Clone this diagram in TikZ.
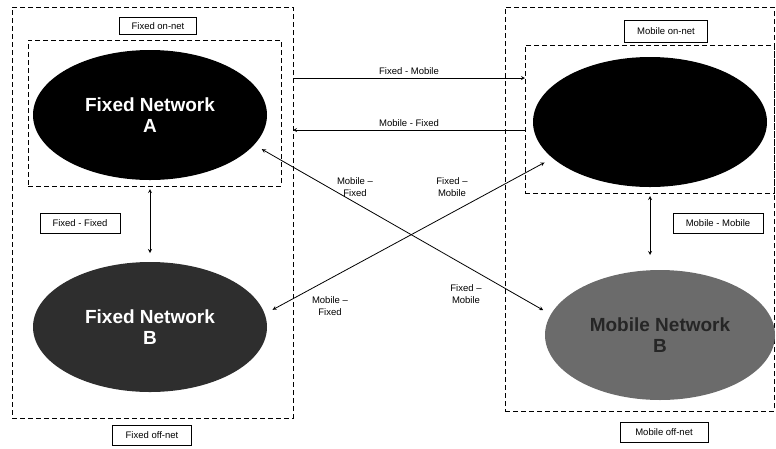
\documentclass[tikz,border=0pt]{standalone}
\usepackage{fontspec}
\setmainfont{Liberation Sans}
\usetikzlibrary{shapes.geometric}

\tikzset{
  zone/.style={draw, dash pattern=on 5pt off 3pt, line width=0.9pt, inner sep=0pt, outer sep=0pt},
  tag/.style={draw, fill=white, line width=0.8pt, font=\fontsize{9.5}{11}\selectfont, minimum height=20pt, inner sep=2pt},
  net/.style={ellipse, minimum width=234pt, minimum height=130pt, outer sep=9pt, align=center, font=\fontsize{19}{21}\selectfont\bfseries},
  flow/.style={<->, >=stealth, line width=0.8pt},
  lbl/.style={font=\fontsize{9.5}{12}\selectfont, align=center}
}

\begin{document}
\begin{tikzpicture}[x=1pt,y=-1pt]
    \useasboundingbox (0,0) rectangle (776,448);

    % zones
    \node (fixedzone) [zone, minimum width=281pt, minimum height=411pt] at (152.5,212.5) {};
    \node (fixedonzone) [zone, minimum width=253pt, minimum height=146pt] at (154.5,113) {};
    \node (mobilezone) [zone, minimum width=269pt, minimum height=404pt] at (639.5,209) {};
    \node (mobileonzone) [zone, minimum width=249pt, minimum height=148pt] at (649.5,119) {};

    % networks
    \node (fixedA) [net, fill=black, text=white] at (150,115) {Fixed Network\\A};
    \node (fixedB) [net, fill=black!82, text=white] at (150,327) {Fixed Network\\B};
    \node (mobileA) [net, fill=black] at (650,122) {};
    \node (mobileB) [net, fill=black!58, text=black!85, minimum width=230pt] at (660,335) {Mobile Network\\B};

    % tags
    \node (fixedon) [tag, minimum width=77pt, minimum height=17pt] at (158,26) {Fixed on-net};
    \node (fixedoff) [tag, minimum width=79pt] at (152,435) {Fixed off-net};
    \node (fixedfixed) [tag, minimum width=80pt] at (80,223) {Fixed - Fixed};
    \node (mobileon) [tag, minimum width=83pt, minimum height=22pt] at (666,31) {Mobile on-net};
    \node (mobileoff) [tag, minimum width=88pt] at (664,432) {Mobile off-net};
    \node (mobilemobile) [tag, minimum width=90pt] at (718,223) {Mobile - Mobile};

    % on-net links
    \coordinate (fm) at (0,78);
    \coordinate (mf) at (0,130);
    \draw [->, >=stealth, line width=0.8pt] (fixedzone.east |- fm) -- node [lbl, above] {Fixed - Mobile} (mobileonzone.west |- fm);
    \draw [->, >=stealth, line width=0.8pt] (mobileonzone.west |- mf) -- node [lbl, above] {Mobile - Fixed} (fixedzone.east |- mf);

    % cross links
    \draw [flow] (fixedA.-17) -- (mobileB.168);
    \draw [flow] (fixedB.8) -- (mobileA.201);
    \draw [flow] (fixedA.south) -- (fixedB.north);
    \draw [flow, shorten >=6pt] (mobileA.south) -- (mobileA.south |- mobileB.north);

    \node (mfup) [lbl] at (355,187) {Mobile --\\Fixed};
    \node (fmup) [lbl] at (452,187) {Fixed --\\Mobile};
    \node (mflow) [lbl] at (330,306) {Mobile --\\Fixed};
    \node (fmlow) [lbl] at (466,294) {Fixed --\\Mobile};
\end{tikzpicture}
\end{document}
